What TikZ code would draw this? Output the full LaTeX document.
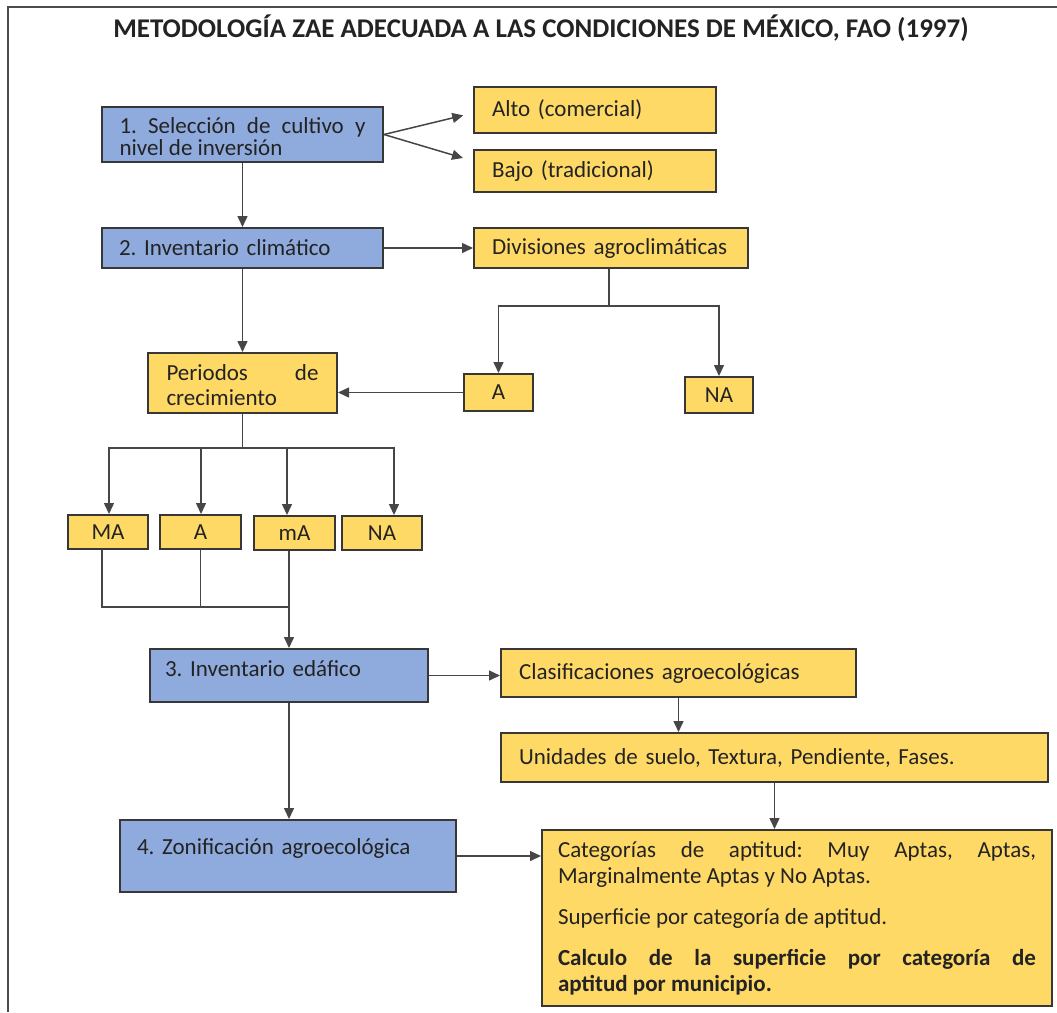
\documentclass[tikz,border=0pt]{standalone}
\usepackage{fontspec}
\setmainfont{Carlito}
\usetikzlibrary{arrows.meta}
\definecolor{bluefill}{RGB}{143,170,220}
\definecolor{yellowfill}{RGB}{255,217,102}
\definecolor{edgec}{RGB}{55,55,55}
\definecolor{wire}{RGB}{70,70,70}
\definecolor{ink}{RGB}{35,35,35}
\begin{document}
\begin{tikzpicture}[x=1pt,y=-1pt,
 box/.style={draw=edgec, line width=2pt, rectangle, inner sep=0pt, text=ink,
   font=\fontsize{23}{22}\selectfont\hyphenpenalty10000\frenchspacing\parindent0pt},
 bluebox/.style={box, fill=bluefill},
 yelbox/.style={box, fill=yellowfill},
 arr/.style={draw=wire, line width=1.5pt, -{Triangle[length=11pt,width=10pt]}},
 ln/.style={draw=wire, line width=1.5pt},
]
\useasboundingbox (0,0) rectangle (1057,1012);
\draw[line width=2pt, color=gray!60!black] (8,1012) -- (8,7) -- (1057,7);

\node[font=\fontsize{27}{30}\selectfont\bfseries, text=ink] (title) at (541,28)
  {METODOLOGÍA ZAE ADECUADA A LAS CONDICIONES DE MÉXICO, FAO (1997)};

\node[bluebox, minimum width=281pt, minimum height=55pt, text width=246pt, align=justify,
  text height=20pt, text depth=23pt] (b1) at (242.5,134.5)
  {1. Selección de cultivo y\linebreak nivel de inversión};
\node[bluebox, minimum width=281pt, minimum height=40pt, text width=247pt, align=left] (b2) at (242.5,248)
  {2. Inventario climático};
\node[yelbox, minimum width=242pt, minimum height=46pt, text width=206pt, align=left] (alto) at (595,110)
  {Alto (comercial)};
\node[yelbox, minimum width=242pt, minimum height=42pt, text width=206pt, align=left] (bajo) at (595,171)
  {Bajo (tradicional)};
\node[yelbox, minimum width=274pt, minimum height=40pt, text width=238pt, align=left] (div) at (611,248)
  {Divisiones agroclimáticas};
\node[yelbox, minimum width=189pt, minimum height=60pt, text width=152pt, align=justify,
  font=\fontsize{23}{25}\selectfont\hyphenpenalty10000\frenchspacing\parindent0pt,
  text height=20pt, text depth=26pt] (PC) at (242.5,383)
  {Periodos de\linebreak crecimiento};
\node[yelbox, minimum width=69pt, minimum height=37pt] (A1) at (498.5,392.5) {A};
\node[yelbox, minimum width=68pt, minimum height=36pt] (NA1) at (719,395) {NA};
\node[yelbox, minimum width=80pt, minimum height=34pt] (MA) at (108,532) {MA};
\node[yelbox, minimum width=81pt, minimum height=34pt] (A2) at (200.5,532) {A};
\node[yelbox, minimum width=81pt, minimum height=34pt] (mA) at (294.5,533) {mA};
\node[yelbox, minimum width=80pt, minimum height=34pt] (NA2) at (382,533) {NA};
\node[bluebox, minimum width=278pt, minimum height=53pt, text width=248pt, align=left, text depth=13pt] (b3) at (289,675.5)
  {3. Inventario edáfico};
\node[yelbox, minimum width=355pt, minimum height=48pt, text width=319pt, align=left] (cl) at (678.5,673)
  {Clasificaciones agroecológicas};
\node[yelbox, minimum width=547pt, minimum height=49pt, text width=511pt, align=left] (un) at (774.5,757.5)
  {Unidades de suelo, Textura, Pendiente, Fases.};
\node[bluebox, minimum width=336pt, minimum height=72pt, text width=302pt, align=left, text depth=19pt] (b4) at (288,856)
  {4. Zonificación agroecológica};
\node[yelbox, minimum width=510pt, minimum height=176pt, text width=478pt, align=justify,
  font=\fontsize{23}{26}\selectfont\hyphenpenalty10000\frenchspacing\parindent0pt] (big) at (797,918)
  {Categorías de aptitud: Muy Aptas, Aptas,\linebreak Marginalmente Aptas y No Aptas.\par\vspace{15pt}
   Superficie por categoría de aptitud.\par\vspace{15pt}
   \textbf{Calculo de la superficie por categoría de\linebreak aptitud por municipio.}};

% connectors
\draw[arr, shorten >=10pt] (b1.east) -- ([yshift=-3pt]alto.west);
\draw[arr] (b1.east) -- ([xshift=-10pt,yshift=13pt]bajo.west);
\draw[arr] (b1.south) -- (b2.north);
\draw[arr] (b2.east) -- (div.west);
\draw[arr] (b2.south) -- (PC.north);

\coordinate (dj) at (609,306);
\draw[ln] (dj |- div.south) -- (dj);
\draw[arr] (dj) -| (A1.north);
\draw[arr] (dj) -| (NA1.north);
\draw[arr] (A1.west) -- (A1.west -| PC.east);

\coordinate (pj) at (242.5,448);
\draw[ln] (PC.south) -- (pj);
\draw[arr] (pj) -| ([xshift=1pt]MA.north);
\draw[arr] (pj) -| ([xshift=0.5pt]A2.north);
\draw[arr] (pj) -| ([xshift=-7.5pt]mA.north);
\draw[arr] (pj) -| ([xshift=12pt]NA2.north);

\coordinate (mj) at (289,607);
\draw[ln] ([xshift=-6pt]MA.south) |- (mj);
\draw[ln] (A2.south) -- (A2.south |- mj);
\draw[ln] (mj |- mA.south) -- (mj);
\draw[arr] (mj) -- (mj |- b3.north);

\draw[arr] (b3.south) -- (b3.south |- b4.north);
\draw[arr] (b3.east) -- (b3.east -| cl.west);
\draw[arr] (cl.south) -- (cl.south |- un.north);
\draw[arr] (un.south) -- (un.south |- big.north);
\draw[arr] (b4.east) -- (b4.east -| big.west);
\end{tikzpicture}
\end{document}
